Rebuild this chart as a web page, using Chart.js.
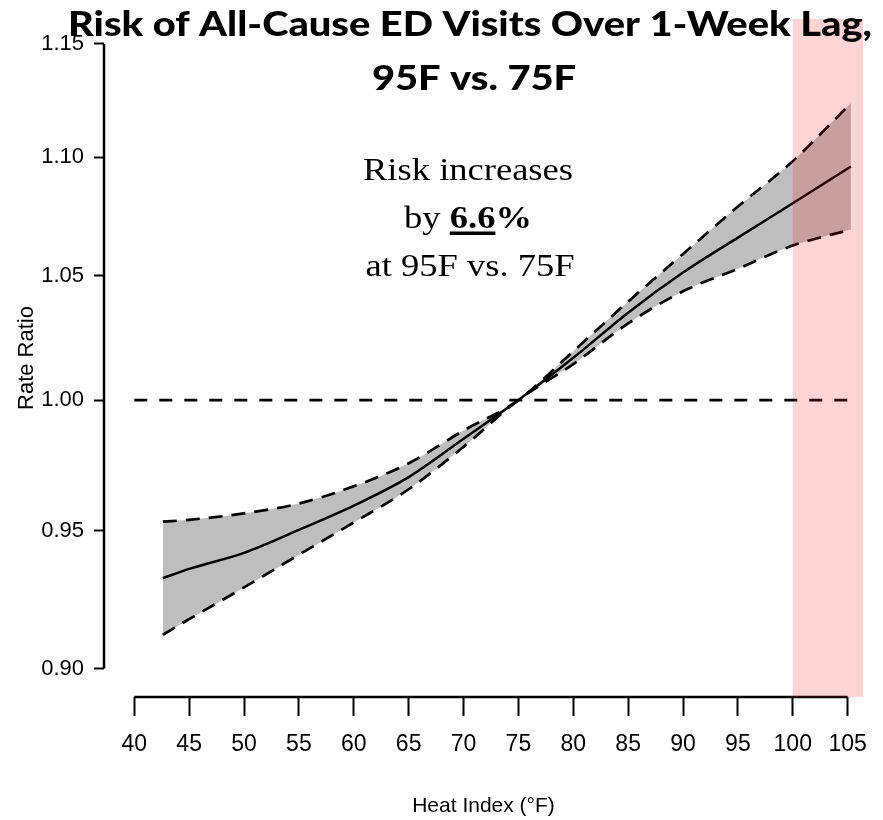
<!DOCTYPE html>
<html>
<head>
<meta charset="utf-8">
<script src="https://cdn.jsdelivr.net/npm/chart.js@4.4.1/dist/chart.umd.min.js"></script>
<style>
  html, body { margin: 0; padding: 0; background: #fff; }
  #wrap { width: 883px; height: 820px; }
</style>
</head>
<body>
<div id="wrap"><canvas id="rrChart" width="883" height="820"></canvas></div>
<script>
// heat index (F) where the curves were read
const heatIndex = [42.6, 45, 50, 55, 60, 65, 70, 75, 80, 85, 90, 95, 100, 105.3];
// rate ratio and 95% CI
const rateRatio = [0.9325, 0.9359, 0.9418, 0.9503, 0.9594, 0.9702, 0.9849, 1.0, 1.0167, 1.0349, 1.0513, 1.0658, 1.0803, 1.0960];
const upperCI   = [0.9534, 0.9541, 0.9565, 0.9602, 0.9667, 0.9755, 0.9881, 1.0, 1.0193, 1.0394, 1.0590, 1.0789, 1.0983, 1.1236];
const lowerCI   = [0.9120, 0.9176, 0.9291, 0.9411, 0.9531, 0.9656, 0.9818, 1.0, 1.0142, 1.0305, 1.0436, 1.0529, 1.0625, 1.0692];

const refX = [40, 105.8];
const refY = [1, 1];
const hotRange = [100, 106.4];

const xTicks = [40, 45, 50, 55, 60, 65, 70, 75, 80, 85, 90, 95, 100, 105];
const yTicks = [0.90, 0.95, 1.00, 1.05, 1.10, 1.15];

const titleLines = ['Risk of All-Cause ED Visits Over 1-Week Lag,', '95F vs. 75F'];
const noteTop = 'Risk increases';
const notePre = 'by ';
const noteValue = '6.6';
const notePost = '%';
const noteBottom = 'at 95F vs. 75F';

const sans = '"Liberation Sans", Arial, sans-serif';
const serif = '"Liberation Serif", "Times New Roman", serif';

const pts = (xs, ys) => xs.map((v, i) => ({ x: v, y: ys[i] }));

// draw text squeezed/stretched horizontally
function fitText(ctx, str, cx, base, sx) {
  ctx.save();
  ctx.translate(cx, base);
  ctx.scale(sx, 1);
  ctx.textAlign = 'center';
  ctx.textBaseline = 'alphabetic';
  ctx.fillText(str, 0, 0);
  ctx.restore();
}

const decor = {
  id: 'decor',
  afterDatasetsDraw(chart) {
    const { ctx, chartArea: a, scales: { x, y } } = chart;
    ctx.save();
    // R-style axis lines, only over the tick range
    ctx.strokeStyle = '#000';
    ctx.lineWidth = 2.5;
    ctx.beginPath();
    ctx.moveTo(a.left, y.getPixelForValue(yTicks[0]));
    ctx.lineTo(a.left, y.getPixelForValue(yTicks[yTicks.length - 1]));
    ctx.moveTo(x.getPixelForValue(xTicks[0]), a.bottom);
    ctx.lineTo(x.getPixelForValue(xTicks[xTicks.length - 1]), a.bottom);
    ctx.stroke();
    // extreme heat band, drawn over the curves
    const x0 = x.getPixelForValue(hotRange[0]);
    const x1 = x.getPixelForValue(hotRange[1]);
    ctx.fillStyle = 'rgba(255, 0, 0, 0.17)';
    ctx.fillRect(x0, a.top, x1 - x0, a.bottom - a.top);
    ctx.restore();
  },
  afterDraw(chart) {
    const { ctx } = chart;
    ctx.save();
    ctx.fillStyle = '#000';

    // title
    ctx.font = '900 34px Lato, "Open Sans", sans-serif';
    const tsx = 804 / ctx.measureText(titleLines[0]).width;
    fitText(ctx, titleLines[0], 470, 36, tsx);
    fitText(ctx, titleLines[1], 474, 90, tsx);

    // annotation
    ctx.font = '32px ' + serif;
    const nsx = 210 / ctx.measureText(noteTop).width;
    fitText(ctx, noteTop, 468, 180, nsx);
    fitText(ctx, noteBottom, 470, 276, nsx);

    const wPre = ctx.measureText(notePre).width;
    ctx.font = 'bold 32px ' + serif;
    const wVal = ctx.measureText(noteValue).width;
    const wPost = ctx.measureText(notePost).width;
    const total = (wPre + wVal + wPost) * nsx;
    const left = 468 - total / 2;
    ctx.save();
    ctx.translate(left, 228);
    ctx.scale(nsx, 1);
    ctx.textAlign = 'left';
    ctx.textBaseline = 'alphabetic';
    ctx.font = '32px ' + serif;
    ctx.fillText(notePre, 0, 0);
    ctx.font = 'bold 32px ' + serif;
    ctx.fillText(noteValue, wPre, 0);
    ctx.fillText(notePost, wPre + wVal, 0);
    ctx.fillRect(wPre, 3.5, wVal, 3.5);
    ctx.restore();

    ctx.restore();
  }
};

const lineStyle = {
  borderColor: '#000',
  borderWidth: 2.7,
  pointRadius: 0,
  cubicInterpolationMode: 'monotone'
};

new Chart(document.getElementById('rrChart'), {
  type: 'line',
  data: {
    datasets: [
      { label: 'Upper 95% CI', data: pts(heatIndex, upperCI), ...lineStyle, borderDash: [14, 9], fill: false },
      { label: 'Lower 95% CI', data: pts(heatIndex, lowerCI), ...lineStyle, borderDash: [14, 9], fill: '-1', backgroundColor: '#bebebe' },
      { label: 'Rate ratio', data: pts(heatIndex, rateRatio), ...lineStyle, borderWidth: 2.5, fill: false },
      { label: 'RR = 1', data: pts(refX, refY), ...lineStyle, borderDash: [13, 12], fill: false }
    ]
  },
  options: {
    responsive: false,
    animation: false,
    layout: { padding: { top: 19, right: 20, left: 0, bottom: 0 } },
    plugins: {
      legend: { display: false },
      tooltip: { enabled: false },
      filler: { drawTime: 'beforeDatasetsDraw' }
    },
    scales: {
      x: {
        type: 'linear',
        min: 37.24,
        max: 106.4,
        afterBuildTicks: s => { s.ticks = xTicks.map(v => ({ value: v })); },
        afterFit: s => { s.height = 123; s.paddingLeft = 0; s.paddingRight = 0; },
        grid: { drawOnChartArea: false, drawTicks: true, tickLength: 19, tickWidth: 2, tickColor: '#000' },
        border: { display: false },
        ticks: { color: '#000', font: { family: sans, size: 23 }, padding: 15, maxRotation: 0, autoSkip: false, callback: v => String(v) },
        title: { display: true, text: 'Heat Index (°F)', color: '#000', font: { family: sans, size: 21 }, padding: { top: 0, bottom: 1 } }
      },
      y: {
        type: 'logarithmic',
        min: 0.8912,
        max: 1.1613,
        afterBuildTicks: s => { s.ticks = yTicks.map(v => ({ value: v })); },
        afterFit: s => { s.width = 104; s.paddingTop = 0; s.paddingBottom = 0; },
        grid: { drawOnChartArea: false, drawTicks: true, tickLength: 10, tickWidth: 2, tickColor: '#000' },
        border: { display: false },
        ticks: { color: '#000', font: { family: sans, size: 22 }, padding: 10, autoSkip: false, callback: v => Number(v).toFixed(2) },
        title: { display: true, text: 'Rate Ratio', color: '#000', font: { family: sans, size: 22 }, padding: { top: 14, bottom: 0 } }
      }
    }
  },
  plugins: [decor]
});
</script>
</body>
</html>
